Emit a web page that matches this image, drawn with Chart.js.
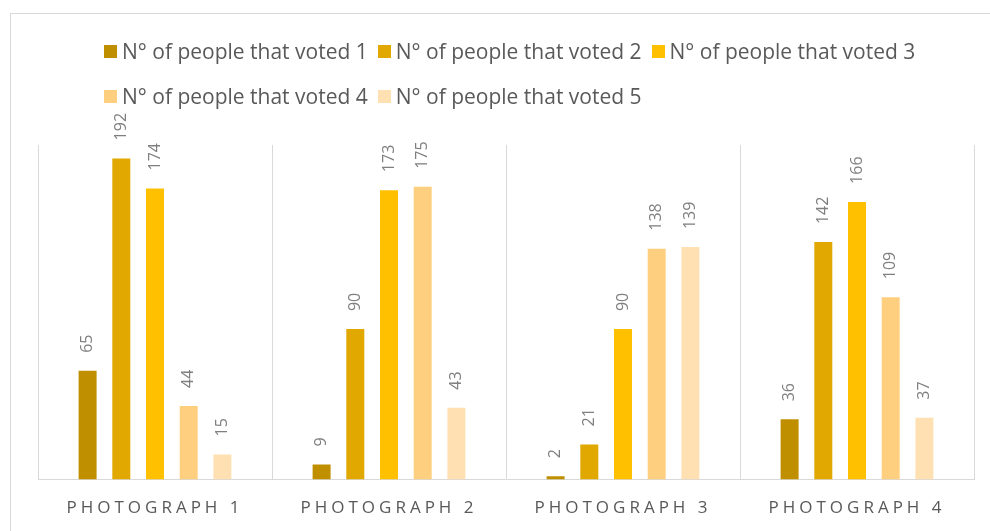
<!DOCTYPE html>
<html lang="en">
<head>
  <meta charset="UTF-8">
  <title>Votes per photograph</title>
  <script src="https://cdn.jsdelivr.net/npm/chart.js"></script>
  <style>
    body {
      margin: 0;
      overflow: hidden;
      background: #fff;
      font-family: "Open Sans", sans-serif;
    }
    .frame {
      position: absolute;
      left: 10px;
      top: 13px;
      width: 1100px;
      height: 700px;
      border: 1px solid #d9d9d9;
    }
    .chart-box {
      position: absolute;
      left: 0;
      top: 0;
      width: 990px;
      height: 531px;
    }
    /* legend: Excel wraps the rows from the left, so build it by hand */
    #legend {
      position: absolute;
      left: 104px;
      top: 37px;
      width: 840px;
      display: flex;
      flex-wrap: wrap;
      row-gap: 16px;
      color: #595959;
      font-size: 21px;
      line-height: 29px;
    }
    #legend .item {
      display: flex;
      align-items: center;
      margin-right: 10px;
      white-space: nowrap;
    }
    #legend .swatch {
      width: 13px;
      height: 13px;
      margin-right: 5px;
    }
  </style>
</head>
<body>
  <div class="frame"></div>
  <div class="chart-box">
    <canvas id="barChart"></canvas>
  </div>
  <div id="legend"></div>

  <script>
    // data
    const photographs = ["PHOTOGRAPH 1", "PHOTOGRAPH 2", "PHOTOGRAPH 3", "PHOTOGRAPH 4"];
    const seriesNames = [
      "N° of people that voted 1",
      "N° of people that voted 2",
      "N° of people that voted 3",
      "N° of people that voted 4",
      "N° of people that voted 5"
    ];
    const voted1 = [65, 9, 2, 36];
    const voted2 = [192, 90, 21, 142];
    const voted3 = [174, 173, 90, 166];
    const voted4 = [44, 175, 138, 109];
    const voted5 = [15, 43, 139, 37];
    const colors = ["#BF8F00", "#E0A800", "#FFC000", "#FFCF80", "#FFE0B3"];

    const seriesValues = [voted1, voted2, voted3, voted4, voted5];

    // vertical value labels above each bar
    const barLabels = {
      id: "barLabels",
      afterDatasetsDraw(chart) {
        const ctx = chart.ctx;
        ctx.save();
        ctx.letterSpacing = "0px";
        ctx.font = "16px 'Open Sans'";
        ctx.fillStyle = "#7f7f7f";
        ctx.textAlign = "left";
        ctx.textBaseline = "middle";
        chart.data.datasets.forEach((ds, i) => {
          chart.getDatasetMeta(i).data.forEach((bar, j) => {
            ctx.save();
            ctx.translate(bar.x, bar.y - 18);
            ctx.rotate(-Math.PI / 2);
            ctx.fillText(ds.data[j], 0, 0);
            ctx.restore();
          });
        });
        ctx.restore();
      }
    };

    // spaced out capitals on the category axis
    const axisSpacing = {
      id: "axisSpacing",
      beforeDraw(chart) {
        chart.ctx.letterSpacing = "4px";
      },
      beforeDatasetsDraw(chart) {
        chart.ctx.letterSpacing = "0px";
      },
      afterDraw(chart) {
        chart.ctx.letterSpacing = "0px";
      }
    };

    const barChart = new Chart(document.getElementById("barChart"), {
      type: "bar",
      data: {
        labels: photographs,
        datasets: seriesNames.map((name, i) => ({
          label: name,
          data: seriesValues[i],
          backgroundColor: colors[i],
          barPercentage: 0.534,
          categoryPercentage: 0.72
        }))
      },
      options: {
        responsive: true,
        maintainAspectRatio: false,
        animation: false,
        layout: {
          padding: { left: 38, right: 16, top: 145, bottom: -5 }
        },
        plugins: {
          legend: { display: false },
          tooltip: { enabled: false }
        },
        scales: {
          x: {
            grid: {
              offset: true,
              color: "#d9d9d9",
              drawTicks: false
            },
            border: { color: "#d9d9d9" },
            ticks: {
              color: "#595959",
              padding: 18,
              font: { family: "'Open Sans'", size: 17 }
            }
          },
          y: {
            display: false,
            min: 0,
            max: 200
          }
        }
      },
      plugins: [barLabels, axisSpacing]
    });

    // build the legend
    const legend = document.getElementById("legend");
    seriesNames.forEach((name, i) => {
      const item = document.createElement("div");
      item.className = "item";
      item.innerHTML = '<span class="swatch" style="background:' + colors[i] + '"></span>' + name;
      legend.appendChild(item);
    });
  </script>
</body>
</html>
